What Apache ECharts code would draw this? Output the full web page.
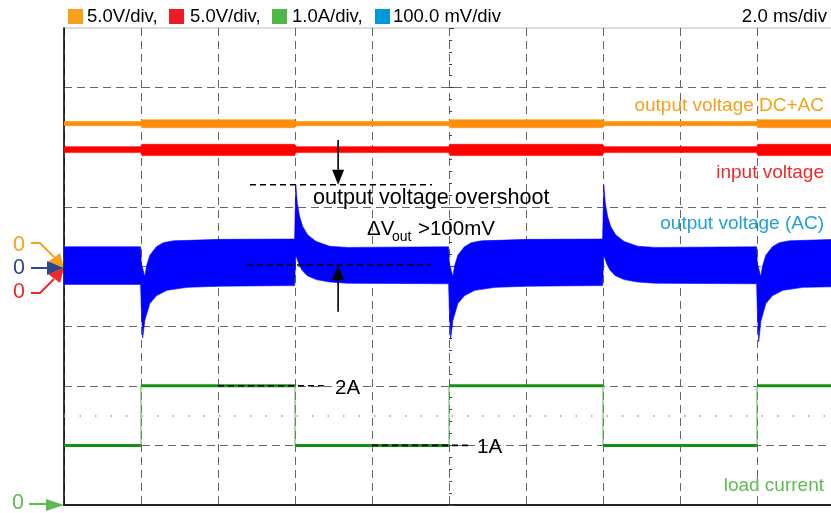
<!DOCTYPE html>
<html><head><meta charset="utf-8">
<script src="https://cdn.jsdelivr.net/npm/echarts@6/dist/echarts.min.js"></script>
<style>html,body{margin:0;padding:0;background:#fff}#c{width:831px;height:513px}</style>
</head><body><div id="c"></div>
<script>
// ---------- data (time in ms) ----------
const legendLabels = ['5.0V/div,', '5.0V/div,', '1.0A/div,', '100.0 mV/div'];
const timebaseLabel = '2.0 ms/div';
const traceNames = ['output voltage DC+AC', 'input voltage', 'output voltage (AC)', 'load current'];

// load current steps (A)
const loadStepTimes = [0, 2, 6, 10, 14, 18, 20];
const loadLevels = [1, 2, 1, 2, 1, 2];

// output voltage DC+AC envelope (V)
const outDcUpper = [[0,12.16],[1.99,12.16],[2.02,12.3],[5.99,12.3],[6.02,12.16],[9.99,12.16],[10.02,12.3],[13.99,12.3],[14.02,12.16],[17.99,12.16],[18.02,12.3],[20,12.3]];
const outDcLower = [[0,11.81],[1.99,11.81],[2.02,11.64],[5.99,11.64],[6.02,11.81],[9.99,11.81],[10.02,11.64],[13.99,11.64],[14.02,11.81],[17.99,11.81],[18.02,11.64],[20,11.64]];

// input voltage envelope (V)
const inUpper = [[0,10.05],[1.99,10.05],[2.02,10.25],[5.99,10.25],[6.02,10.05],[9.99,10.05],[10.02,10.25],[13.99,10.25],[14.02,10.05],[17.99,10.05],[18.02,10.25],[20,10.25]];
const inLower = [[0,9.55],[1.99,9.55],[2.02,9.30],[5.99,9.30],[6.02,9.55],[9.99,9.55],[10.02,9.30],[13.99,9.30],[14.02,9.55],[17.99,9.55],[18.02,9.30],[20,9.30]];

// output voltage AC envelope (mV)
const outAcUpper = [
  [0,33],[1.99,33],
  [2.01,5],[2.1,-17],[2.14,0],[2.23,19],[2.4,33],[2.58,40],[2.84,43],[4.05,45.5],[5.99,46],
  [6.02,137],[6.06,106],[6.12,84],[6.2,67],[6.33,53],[6.55,42],[6.9,34],[7.35,32],[9.99,33],
  [10.01,5],[10.1,-17],[10.14,0],[10.23,19],[10.4,33],[10.58,40],[10.84,43],[12.05,45.5],[13.99,46],
  [14.02,137],[14.06,106],[14.12,84],[14.2,67],[14.33,53],[14.55,42],[14.9,34],[15.35,32],[17.99,33],
  [18.01,5],[18.1,-17],[18.14,0],[18.23,19],[18.4,33],[18.58,40],[18.84,43],[20,45.5]
];
const outAcLower = [
  [0,-30],[1.99,-30],
  [2.01,-75],[2.044,-120],[2.1,-90],[2.23,-62],[2.4,-49],[2.67,-40],[3.2,-35],[4.05,-33],[5.99,-32],
  [6.02,19],[6.1,4],[6.18,-6],[6.31,-15],[6.55,-22],[6.9,-26],[7.35,-28],[9.99,-29],
  [10.01,-75],[10.044,-122],[10.1,-91],[10.23,-62],[10.4,-49],[10.67,-40],[11.2,-35],[12.05,-33],[13.99,-32],
  [14.02,19],[14.1,4],[14.18,-6],[14.31,-15],[14.55,-22],[14.9,-26],[15.35,-28],[17.99,-29],
  [18.01,-77],[18.044,-126],[18.1,-92],[18.23,-62],[18.4,-49],[18.67,-40],[19.2,-35],[20,-34]
];

// annotations (mV on AC channel, A on current channel)
const overshootLevel = 137, baseLevel = 2.5;
const overshootLine = [4.83, 9.56], baseLine = [4.75, 9.51];
const arrowTime = 7.12, arrowDownFrom = 212, arrowUpFrom = -76;
const currentMarks = [[2, 4.0, 6.75], [1, 8.0, 10.55]]; // level, t0, t1
const currentMarkText = ['2A', '1A'];
const dottedLevel = 1.5;

// ---------- chart ----------
const FONT = "'Liberation Sans', Arial, Helvetica, sans-serif";
const chart = echarts.init(document.getElementById('c'), null, {renderer: 'canvas'});

function band(name, upper, lower, color, yIdx) {
  return {
    type: 'custom', name: name, yAxisIndex: yIdx, silent: true, clip: true, z: 3,
    data: [[upper[0][0], upper[0][1]]],
    renderItem: function (params, api) {
      const pts = upper.map(p => api.coord(p)).concat(lower.slice().reverse().map(p => api.coord(p)));
      return {type: 'polygon', shape: {points: pts}, style: {fill: color, stroke: color, lineWidth: 0.6}};
    }
  };
}

const loadData = loadLevels.map((a, i) => [loadStepTimes[i], loadStepTimes[i + 1], a, i + 1 < loadLevels.length ? loadLevels[i + 1] : a]);

const annData = [
  [overshootLine[0], overshootLevel, overshootLine[1], overshootLevel, 0],
  [baseLine[0], baseLevel, baseLine[1], baseLevel, 0],
  [arrowTime, arrowDownFrom, arrowTime, overshootLevel, 1],
  [arrowTime, arrowUpFrom, arrowTime, baseLevel, 1]
];

function annRender(params, api) {
  const a = api.coord([api.value(0), api.value(1)]);
  const b = api.coord([api.value(2), api.value(3)]);
  if (api.value(4) === 0) {
    return {type: 'line', shape: {x1: a[0], y1: a[1], x2: b[0], y2: b[1]},
      style: {stroke: '#000', lineWidth: 1.6, lineDash: [6, 4]}};
  }
  const dx = b[0] - a[0], dy = b[1] - a[1], L = Math.hypot(dx, dy);
  const ux = dx / L, uy = dy / L, hl = 15, hw = 6;
  const bx = b[0] - ux * hl, by = b[1] - uy * hl;
  return {type: 'group', children: [
    {type: 'line', shape: {x1: a[0], y1: a[1], x2: bx, y2: by}, style: {stroke: '#000', lineWidth: 1.6}},
    {type: 'polygon', shape: {points: [[b[0], b[1]], [bx - uy * hw, by + ux * hw], [bx + uy * hw, by - ux * hw]]}, style: {fill: '#000'}}
  ]};
}

const gridColors = ['#333', '#666', '#666', '#666', '#777', '#666', '#666', '#666', 'rgba(0,0,0,0)'];

chart.setOption({
  animation: false,
  backgroundColor: '#fff',
  grid: {left: 64, top: 28, width: 770, height: 477, show: true, borderColor: '#ddd', borderWidth: 2,
    containLabel: false, outerBoundsMode: 'none'},
  xAxis: {type: 'value', min: 0, max: 20, interval: 2,
    axisLine: {show: true, onZero: false, lineStyle: {color: '#222', width: 2}},
    axisTick: {show: false}, axisLabel: {show: false},
    splitLine: {show: true, lineStyle: {color: '#666', type: [8, 5], width: 1}}},
  yAxis: [
    {type: 'value', min: -400, max: 400, interval: 100,
      axisLine: {show: true, onZero: false, lineStyle: {color: '#000', width: 1.5}},
      axisTick: {show: false}, axisLabel: {show: false},
      splitLine: {show: true, lineStyle: {color: gridColors, type: [8, 5], width: 1}}},
    {type: 'value', min: -20, max: 20, show: false},
    {type: 'value', min: 0, max: 8, show: false},
    {type: 'value', min: -4, max: 4, interval: 1, position: 'left', offset: -385,
      axisLine: {show: false}, axisLabel: {show: false}, splitLine: {show: false},
      axisTick: {show: true, inside: true, length: 5, lineStyle: {color: '#444'}},
      minorTick: {show: true, splitNumber: 5, length: 3, lineStyle: {color: '#444'}}}
  ],
  series: [
    band(traceNames[0], outDcUpper, outDcLower, '#FF8F0A', 1),
    band(traceNames[1], inUpper, inLower, '#FF0000', 1),
    band(traceNames[2], outAcUpper, outAcLower, '#0000FF', 0),
    {type: 'custom', name: traceNames[3], yAxisIndex: 2, silent: true, z: 3,
      data: loadData, encode: {x: [0, 1], y: [2, 3]},
      renderItem: function (params, api) {
        const t0 = api.value(0), t1 = api.value(1), a = api.value(2), n = api.value(3);
        const p0 = api.coord([t0, a]), p1 = api.coord([t1, a]), p2 = api.coord([t1, n]);
        return {type: 'group', children: [
          {type: 'line', shape: {x1: p0[0], y1: p0[1], x2: p1[0], y2: p1[1]}, style: {stroke: '#159015', lineWidth: 3}},
          {type: 'line', shape: {x1: p1[0], y1: p1[1], x2: p2[0], y2: p2[1]}, style: {stroke: '#55b855', lineWidth: 1}}
        ]};
      },
      markLine: {silent: true, symbol: 'none', label: {show: false},
        lineStyle: {color: '#999', type: [1.5, 14], width: 1.5},
        data: [{yAxis: dottedLevel}]}
    },
    {type: 'custom', name: 'ann', yAxisIndex: 0, silent: true, z: 5,
      data: annData, encode: {x: [0, 2], y: [1, 3]}, renderItem: annRender},
    {type: 'custom', name: 'ann2', yAxisIndex: 2, silent: true, z: 5,
      data: currentMarks.map(m => [m[1], m[0], m[2], m[0], 0]), encode: {x: [0, 2], y: [1, 3]},
      renderItem: annRender}
  ],
  graphic: [
    // legend
    {type: 'rect', shape: {x: 68, y: 9, width: 15, height: 15}, style: {fill: '#F7A11A'}},
    {type: 'text', x: 87, y: 17, style: {text: legendLabels[0], font: '18.5px ' + FONT, fill: '#000', verticalAlign: 'middle'}},
    {type: 'rect', shape: {x: 169, y: 9, width: 15, height: 15}, style: {fill: '#ED1C24'}},
    {type: 'text', x: 190, y: 17, style: {text: legendLabels[1], font: '18.5px ' + FONT, fill: '#000', verticalAlign: 'middle'}},
    {type: 'rect', shape: {x: 272, y: 9, width: 15, height: 15}, style: {fill: '#4DB748'}},
    {type: 'text', x: 292, y: 17, style: {text: legendLabels[2], font: '18.5px ' + FONT, fill: '#000', verticalAlign: 'middle'}},
    {type: 'rect', shape: {x: 375, y: 9, width: 15, height: 15}, style: {fill: '#0099D8'}},
    {type: 'text', x: 393, y: 17, style: {text: legendLabels[3], font: '18.5px ' + FONT, fill: '#000', verticalAlign: 'middle'}},
    {type: 'text', x: 827, y: 17, style: {text: timebaseLabel, font: '18.7px ' + FONT, fill: '#000', align: 'right', verticalAlign: 'middle'}},
    // right labels
    {type: 'text', x: 824, y: 106, z: 10, style: {text: traceNames[0], font: '19px ' + FONT, fill: '#F7A11A', align: 'right', verticalAlign: 'middle'}},
    {type: 'text', x: 824, y: 173, z: 10, style: {text: traceNames[1], font: '19px ' + FONT, fill: '#EE2A2A', align: 'right', verticalAlign: 'middle'}},
    {type: 'text', x: 824, y: 224, z: 10, style: {text: traceNames[2], font: '19px ' + FONT, fill: '#1EA0DC', align: 'right', verticalAlign: 'middle'}},
    {type: 'text', x: 824, y: 486, z: 10, style: {text: traceNames[3], font: '19px ' + FONT, fill: '#5DBB50', align: 'right', verticalAlign: 'middle'}},
    // annotation texts
    {type: 'text', x: 313, y: 198, z: 10, style: {text: 'output voltage overshoot', font: '21.6px ' + FONT, fill: '#000', verticalAlign: 'middle'}},
    {type: 'text', x: 367, y: 229, z: 10, style: {text: '\u0394V', font: '20.5px ' + FONT, fill: '#000', verticalAlign: 'middle'}},
    {type: 'text', x: 392, y: 237, z: 10, style: {text: 'out', font: '14px ' + FONT, fill: '#000', verticalAlign: 'middle'}},
    {type: 'text', x: 418, y: 229, z: 10, style: {text: '>100mV', font: '20.5px ' + FONT, fill: '#000', verticalAlign: 'middle'}},
    {type: 'text', x: 335, y: 388, z: 10, style: {text: currentMarkText[0], font: '20.5px ' + FONT, fill: '#000', verticalAlign: 'middle'}},
    {type: 'text', x: 477, y: 447, z: 10, style: {text: currentMarkText[1], font: '20.5px ' + FONT, fill: '#000', verticalAlign: 'middle'}},
    // channel zero markers
    {type: 'text', x: 19, y: 245, style: {text: '0', font: '21.5px ' + FONT, fill: '#F7A11A', align: 'center', verticalAlign: 'middle'}},
    {type: 'polyline', shape: {points: [[31, 243], [40, 243], [54, 257]]}, style: {stroke: '#F7A11A', lineWidth: 2, fill: null}},
    {type: 'polygon', shape: {points: [[64, 268], [48, 262], [60, 253]]}, style: {fill: '#F7A11A'}},
    {type: 'text', x: 19, y: 268, style: {text: '0', font: '21.5px ' + FONT, fill: '#2B4A8B', align: 'center', verticalAlign: 'middle'}},
    {type: 'line', shape: {x1: 31, y1: 268, x2: 50, y2: 268}, style: {stroke: '#2B4A8B', lineWidth: 2}},
    {type: 'polygon', shape: {points: [[64, 268], [47, 261], [47, 275]]}, style: {fill: '#2B4A8B'}},
    {type: 'text', x: 19, y: 292, style: {text: '0', font: '21.5px ' + FONT, fill: '#EE2A2A', align: 'center', verticalAlign: 'middle'}},
    {type: 'polyline', shape: {points: [[31, 293], [40, 293], [54, 279]]}, style: {stroke: '#EE2A2A', lineWidth: 2, fill: null}},
    {type: 'polygon', shape: {points: [[64, 268], [48, 274], [60, 283]]}, style: {fill: '#EE2A2A'}},
    {type: 'text', x: 18, y: 503, style: {text: '0', font: '21.5px ' + FONT, fill: '#5DBB50', align: 'center', verticalAlign: 'middle'}},
    {type: 'line', shape: {x1: 29, y1: 504, x2: 50, y2: 504}, style: {stroke: '#5DBB50', lineWidth: 2}},
    {type: 'polygon', shape: {points: [[64, 505], [46, 499], [46, 511]]}, style: {fill: '#5DBB50'}}
  ]
});
</script>
</body></html>
